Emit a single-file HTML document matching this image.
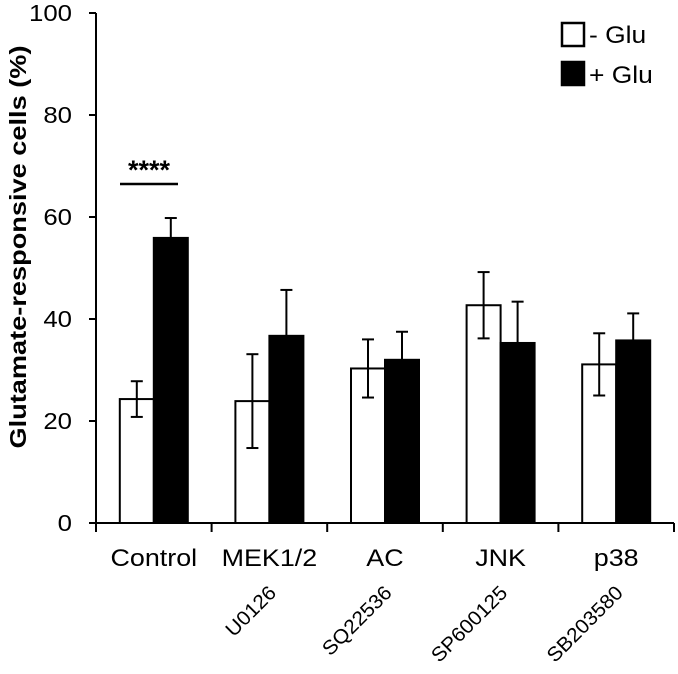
<!DOCTYPE html>
<html><head><meta charset="utf-8"><style>
body{margin:0;background:#fff;}
svg text{font-family:"Liberation Sans",Arial,sans-serif;fill:#000;}
</style></head><body>
<svg width="678" height="669" viewBox="0 0 678 669">
<g id="plot"></g>
</svg>
<script>
const categories=["Control","MEK1/2","AC","JNK","p38"];
const inhibitors=["","U0126","SQ22536","SP600125","SB203580"];
const minusGlu=[24.3,23.9,30.3,42.7,31.1];
const minusGluErr=[3.5,9.2,5.7,6.5,6.1];
const plusGlu=[55.9,36.7,32.0,35.3,35.8];
const plusGluErr=[3.9,9.0,5.5,8.1,5.3];
const yTicks=[0,20,40,60,80,100];

const NS="http://www.w3.org/2000/svg";
const g=document.getElementById('plot');
const x0=96,x1=674,y0=523,yTop=13;
const bw=(x1-x0)/categories.length;
const y=v=>y0-(v/100)*(y0-yTop);
const cx=i=>x0+bw*(i+0.5);
function mk(t,a){const e=document.createElementNS(NS,t);for(const k in a)e.setAttribute(k,a[k]);g.appendChild(e);return e;}
function stretch(el,f){const L=el.getComputedTextLength();if(L>0){el.setAttribute('textLength',L*f);el.setAttribute('lengthAdjust','spacingAndGlyphs');}}
let ax=mk('line',{x1:x0,y1:yTop,x2:x0,y2:y0,stroke:'#000','stroke-width':2});


let bx=mk('line',{x1:x0,y1:y0,x2:x1,y2:y0,stroke:'#000','stroke-width':2});


yTicks.forEach(t=>{
  const l=mk('line',{x1:x0-7,y1:y(t),x2:x0,y2:y(t),stroke:'#000','stroke-width':2});
  
  
  const tx=mk('text',{x:x0-24,y:y(t)+8,'text-anchor':'end','font-size':23});
  tx.textContent=t;
  
  
  stretch(tx,1.12);
});
for(let i=0;i<=categories.length;i++){
  const l=mk('line',{x1:x0+bw*i,y1:y0,x2:x0+bw*i,y2:y0+9,stroke:'#000','stroke-width':2});
  
  
}
const barW=34;
function err(xc,v,e){
  const l=mk('line',{x1:xc,y1:y(v-e),x2:xc,y2:y(v+e),stroke:'#000','stroke-width':2});
  
  
  [v-e,v+e].forEach(w=>{const c=mk('line',{x1:xc-6,y1:y(w),x2:xc+6,y2:y(w),stroke:'#000','stroke-width':2});
  
  });
}
categories.forEach((c,i)=>{
  const m=cx(i);
  const r1=mk('rect',{x:m-barW,y:y(minusGlu[i]),width:barW,height:y0-y(minusGlu[i]),fill:'#fff',stroke:'#000','stroke-width':2});
  
  
  const r2=mk('rect',{x:m,y:y(plusGlu[i]),width:barW,height:y0-y(plusGlu[i]),fill:'#000',stroke:'#000','stroke-width':2});
  
  
  err(m-barW/2,minusGlu[i],minusGluErr[i]);
  err(m+barW/2,plusGlu[i],plusGluErr[i]);
  const t=mk('text',{x:m,y:566,'text-anchor':'middle','font-size':24});
  t.textContent=c;
  
  
  stretch(t,1.12);
  if(inhibitors[i]){
    const ax_=m+8, ay_=594;
    const t2=mk('text',{x:ax_,y:ay_,'text-anchor':'end','font-size':20,transform:`rotate(-45 ${ax_} ${ay_})`});
    t2.textContent=inhibitors[i];
    
    
    stretch(t2,1.05);
  }
});
const sl=mk('line',{x1:120,y1:184,x2:178,y2:184,stroke:'#000','stroke-width':2.5});


const st=mk('text',{x:149,y:179,'text-anchor':'middle','font-size':27,'font-weight':'bold'});
st.textContent='****';


const yt=mk('text',{x:26,y:247,'text-anchor':'middle','font-size':23,'font-weight':'bold',transform:'rotate(-90 26 247)'});
yt.textContent='Glutamate-responsive cells (%)';


yt.setAttribute('textLength',403);
yt.setAttribute('lengthAdjust','spacingAndGlyphs');
const lb1=mk('rect',{x:562,y:23,width:22,height:23,fill:'#fff',stroke:'#000','stroke-width':2.5});


const lt1=mk('text',{x:589,y:43,'font-size':24});
lt1.textContent='- Glu';


stretch(lt1,1.1);
const lb2=mk('rect',{x:562,y:62,width:22,height:23,fill:'#000',stroke:'#000','stroke-width':2.5});


const lt2=mk('text',{x:589,y:83,'font-size':24});
lt2.textContent='+ Glu';


stretch(lt2,1.1);
</script>
</body></html>
